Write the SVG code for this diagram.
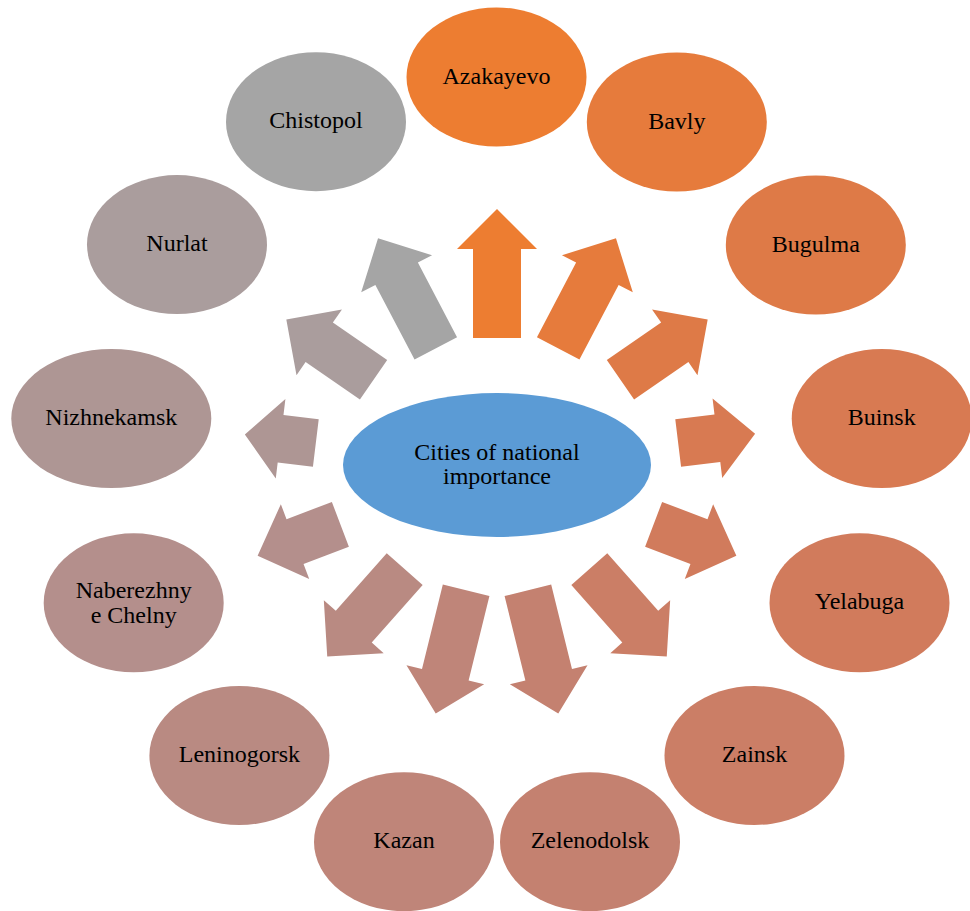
<svg xmlns="http://www.w3.org/2000/svg" width="970" height="911" viewBox="0 0 970 911">
<style>
text{font-family:"Liberation Serif","Times New Roman",serif;font-size:24px;fill:#000;text-anchor:middle}
.c0{fill:#ED7D31}.c1{fill:#E67B3C}.c2{fill:#DE7A47}.c3{fill:#D87A52}.c4{fill:#D17B5C}.c5{fill:#CB7E66}.c6{fill:#C48170}
.c7{fill:#BF8579}.c8{fill:#B98A82}.c9{fill:#B48F8C}.c10{fill:#AE9694}.c11{fill:#AA9D9D}.c12{fill:#A5A5A5}
.hub{fill:#5B9BD5}
</style>
<rect width="970" height="911" fill="#fff"/>
<g id="connectors">
<polygon class="c0" points="473,338 473,249 457,249 497,209 537,249 521,249 521,338" transform="rotate(0 497 465)"/>
<polygon class="c1" points="473,333.3 473,249 457,249 497,209 537,249 521,249 521,333.3" transform="rotate(27.692 497 465)"/>
<polygon class="c2" points="473,315 473,249 457,249 497,209 537,249 521,249 521,315" transform="rotate(55.385 497 465)"/>
<polygon class="c3" points="473,282.5 473,243 457,243 497,205 537,243 521,243 521,282.5" transform="rotate(83.077 497 465)"/>
<polygon class="c4" points="473,297.5 473,249 457,249 497,209 537,249 521,249 521,297.5" transform="rotate(110.769 497 465)"/>
<polygon class="c5" points="473,325.8 473,249 457,249 497,209 537,249 521,249 521,325.8" transform="rotate(138.462 497 465)"/>
<polygon class="c6" points="473,336 473,249 457,249 497,209 537,249 521,249 521,336" transform="rotate(166.154 497 465)"/>
<polygon class="c7" points="473,336 473,249 457,249 497,209 537,249 521,249 521,336" transform="rotate(193.846 497 465)"/>
<polygon class="c8" points="473,325.8 473,249 457,249 497,209 537,249 521,249 521,325.8" transform="rotate(221.538 497 465)"/>
<polygon class="c9" points="473,297.5 473,249 457,249 497,209 537,249 521,249 521,297.5" transform="rotate(249.231 497 465)"/>
<polygon class="c10" points="473,282.5 473,247 457,247 497,211 537,247 521,247 521,282.5" transform="rotate(276.923 497 465)"/>
<polygon class="c11" points="473,315 473,249 457,249 497,209 537,249 521,249 521,315" transform="rotate(304.615 497 465)"/>
<polygon class="c12" points="473,333.3 473,249 457,249 497,209 537,249 521,249 521,333.3" transform="rotate(332.308 497 465)"/>
</g>
<g id="node-center"><ellipse class="hub" cx="497" cy="465" rx="154" ry="72"/><text x="497" y="460">Cities of national</text><text x="497" y="484">importance</text></g>
<g id="node-azakayevo"><ellipse class="c0" cx="496.5" cy="77" rx="90" ry="69.5"/><text x="496.5" y="83.5">Azakayevo</text></g>
<g id="node-bavly"><ellipse class="c1" cx="676.8" cy="122" rx="90" ry="69.5"/><text x="676.8" y="128.5">Bavly</text></g>
<g id="node-bugulma"><ellipse class="c2" cx="815.8" cy="245" rx="90" ry="69.5"/><text x="815.8" y="251.5">Bugulma</text></g>
<g id="node-buinsk"><ellipse class="c3" cx="881.7" cy="418.5" rx="90" ry="69.5"/><text x="881.7" y="425">Buinsk</text></g>
<g id="node-yelabuga"><ellipse class="c4" cx="859.5" cy="602.8" rx="90" ry="69.5"/><text x="859.5" y="609.3">Yelabuga</text></g>
<g id="node-zainsk"><ellipse class="c5" cx="754.5" cy="755.5" rx="90" ry="69.5"/><text x="754.5" y="762">Zainsk</text></g>
<g id="node-zelenodolsk"><ellipse class="c6" cx="590" cy="841.7" rx="90" ry="69.5"/><text x="590" y="848.2">Zelenodolsk</text></g>
<g id="node-kazan"><ellipse class="c7" cx="404" cy="841.7" rx="90" ry="69.5"/><text x="404" y="848.2">Kazan</text></g>
<g id="node-leninogorsk"><ellipse class="c8" cx="239.4" cy="755.5" rx="90" ry="69.5"/><text x="239.4" y="762">Leninogorsk</text></g>
<g id="node-naberezhnye-chelny"><ellipse class="c9" cx="133.7" cy="602.8" rx="90" ry="69.5"/><text x="133.7" y="598.3">Naberezhny</text><text x="133.7" y="622.5">e Chelny</text></g>
<g id="node-nizhnekamsk"><ellipse class="c10" cx="111.3" cy="418.5" rx="100" ry="69.5"/><text x="111.3" y="425">Nizhnekamsk</text></g>
<g id="node-nurlat"><ellipse class="c11" cx="177" cy="244.6" rx="90" ry="69.5"/><text x="177" y="251.1">Nurlat</text></g>
<g id="node-chistopol"><ellipse class="c12" cx="316" cy="121.7" rx="90" ry="69.5"/><text x="316" y="128.2">Chistopol</text></g>
</svg>
